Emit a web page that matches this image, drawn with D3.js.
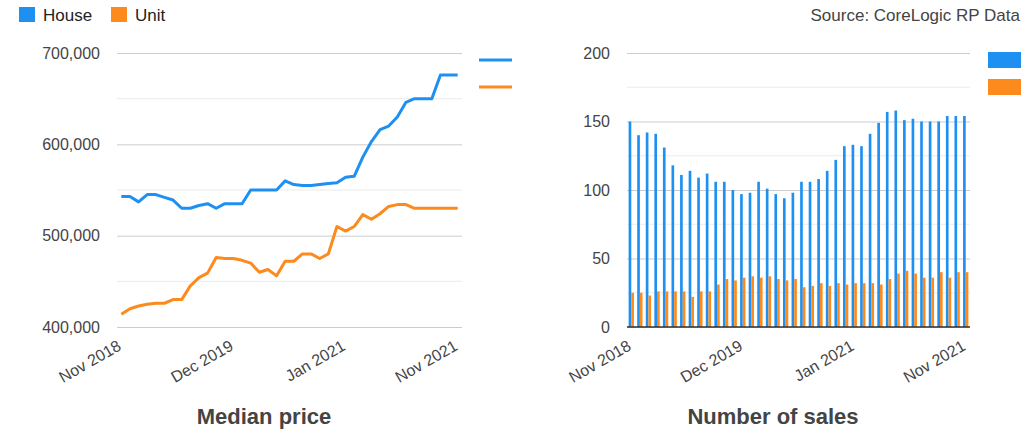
<!DOCTYPE html>
<html lang="en">
<head>
<meta charset="UTF-8">
<title>Median price and number of sales</title>
<script src="https://cdn.jsdelivr.net/npm/d3@7"></script>
<style>
  body { margin: 0; background: #fff; }
  text { font-family: "Liberation Sans", Arial, sans-serif; }
</style>
</head>
<body>
<script>

// months Nov 2018 .. Nov 2021 (40 periods on the category axis)
var tickLabels = ["Nov 2018", "Dec 2019", "Jan 2021", "Nov 2021"];
var tickAt = [0, 13, 26, 39];

var seriesNames = ["House", "Unit"];
var colors = ["#1e90f2", "#fd8a1c"];

// median price
var housePrice = [543000, 543000, 537000, 545000, 545000, 542000, 539000, 530000, 530000, 533000,
                  535000, 530000, 535000, 535000, 535000, 550000, 550000, 550000, 550000, 560000,
                  556000, 555000, 555000, 556000, 557000, 558000, 564000, 565000, 586000, 603000,
                  616000, 620000, 630000, 646000, 650000, 650000, 650000, 676000, 676000, 676000];
var unitPrice = [414000, 420000, 423000, 425000, 426000, 426000, 430000, 430000, 445000, 454000,
                 459000, 476000, 475000, 475000, 473000, 470000, 460000, 463000, 456000, 472000,
                 472000, 480000, 480000, 475000, 480000, 510000, 505000, 510000, 523000, 518000,
                 524000, 532000, 534000, 534000, 530000, 530000, 530000, 530000, 530000, 530000];

// number of sales
var houseSales = [150, 140, 142, 141, 131, 118, 111, 114, 109, 112,
                  106, 106, 100, 97, 98, 106, 101, 97, 94, 98,
                  106, 106, 108, 114, 122, 132, 133, 132, 141, 149,
                  157, 158, 151, 152, 150, 150, 150, 154, 154, 154];
var unitSales = [25, 25, 23, 26, 26, 26, 26, 22, 26, 26,
                 31, 35, 34, 36, 37, 36, 37, 35, 34, 35,
                 29, 30, 32, 30, 32, 31, 32, 32, 32, 31,
                 35, 39, 41, 39, 36, 36, 40, 36, 40, 40];

var w = 1035;
var h = 432;
var idx = d3.range(housePrice.length);

var svg = d3.select("body")
    .append("svg")
    .attr("width", w)
    .attr("height", h);

// top legend
var legend = svg.append("g");
var legendX = [19, 111];
seriesNames.forEach(function(name, i) {
    legend.append("rect")
        .attr("x", legendX[i]).attr("y", 7)
        .attr("width", 16).attr("height", 15)
        .attr("fill", colors[i]);
    legend.append("text")
        .attr("x", legendX[i] + 24).attr("y", 21)
        .attr("font-size", 17)
        .attr("fill", "#222")
        .text(name);
});

svg.append("text")
    .attr("x", 1020).attr("y", 21)
    .attr("text-anchor", "end")
    .attr("font-size", 17)
    .attr("fill", "#444")
    .text("Source: CoreLogic RP Data");

function drawFrame(g, x, y, majors, minors, fmt, left, right, top, bottom) {
    g.selectAll(".minor")
        .data(minors)
        .enter()
        .append("line")
        .attr("x1", left).attr("x2", right)
        .attr("y1", function(d) { return y(d); })
        .attr("y2", function(d) { return y(d); })
        .attr("stroke", "#ebebeb");

    var yAxis = g.append("g")
        .attr("transform", "translate(" + left + ",0)")
        .call(d3.axisLeft(y).tickValues(majors).tickFormat(fmt).tickSize(-(right - left)).tickPadding(17));
    yAxis.select(".domain").remove();
    yAxis.selectAll(".tick line").attr("stroke", "#cccccc");
    yAxis.selectAll(".tick text")
        .attr("font-size", 16)
        .attr("font-family", "Liberation Sans, Arial, sans-serif")
        .attr("fill", "#444");

    var xAxis = g.append("g")
        .attr("transform", "translate(0," + bottom + ")")
        .call(d3.axisBottom(x).tickValues(tickAt).tickSize(0)
            .tickFormat(function(d) { return tickLabels[tickAt.indexOf(d)]; }));
    xAxis.select(".domain").remove();
    xAxis.selectAll(".tick text")
        .attr("font-size", 16)
        .attr("font-family", "Liberation Sans, Arial, sans-serif")
        .attr("fill", "#444")
        .attr("text-anchor", "end")
        .attr("dy", null)
        .attr("y", 0)
        .attr("transform", "translate(1,22) rotate(-30)");
}

// ---- Median price (line chart)
var l = {left: 117, right: 462, top: 53, bottom: 327};
var gl = svg.append("g");

var xl = d3.scaleBand().domain(idx).range([l.left, l.right]);
var yl = d3.scaleLinear().domain([400000, 700000]).range([l.bottom, l.top]);

drawFrame(gl, xl, yl, [400000, 500000, 600000, 700000], [450000, 550000, 650000],
    d3.format(","), l.left, l.right, l.top, l.bottom);

var line = d3.line()
    .x(function(d, i) { return xl(i) + xl.bandwidth() / 2; })
    .y(function(d) { return yl(d); });

[housePrice, unitPrice].forEach(function(s, i) {
    gl.append("path")
        .datum(s)
        .attr("d", line)
        .attr("fill", "none")
        .attr("stroke", colors[i])
        .attr("stroke-width", 3)
        .attr("stroke-linejoin", "round");
    // side legend (markers only)
    gl.append("line")
        .attr("x1", 479).attr("x2", 512)
        .attr("y1", 60 + i * 27).attr("y2", 60 + i * 27)
        .attr("stroke", colors[i])
        .attr("stroke-width", 3);
});

gl.append("text")
    .attr("x", 264).attr("y", 424)
    .attr("text-anchor", "middle")
    .attr("font-size", 22)
    .attr("font-weight", "bold")
    .attr("fill", "#444")
    .text("Median price");

// ---- Number of sales (column chart)
var r = {left: 627, right: 970, top: 53, bottom: 327};
var gr = svg.append("g");

var xr = d3.scaleBand().domain(idx).range([r.left, r.right]).paddingInner(0.38).paddingOuter(0.19);
var xs = d3.scaleBand().domain([0, 1]).range([0, xr.bandwidth()]);
var yr = d3.scaleLinear().domain([0, 200]).range([r.bottom, r.top]);

drawFrame(gr, d3.scaleBand().domain(idx).range([r.left, r.right]), yr, [0, 50, 100, 150, 200], [25, 75, 125, 175],
    d3.format("d"), r.left, r.right, r.top, r.bottom);

[houseSales, unitSales].forEach(function(s, k) {
    gr.append("g")
        .selectAll("rect")
        .data(s)
        .enter()
        .append("rect")
        .attr("x", function(d, i) { return xr(i) + xs(k); })
        .attr("y", function(d) { return yr(d); })
        .attr("width", xs.bandwidth())
        .attr("height", function(d) { return yr(0) - yr(d); })
        .attr("fill", colors[k]);
    gr.append("rect")
        .attr("x", 988).attr("y", 52 + k * 27)
        .attr("width", 33).attr("height", 16)
        .attr("fill", colors[k]);
});

gr.append("line")
    .attr("x1", r.left).attr("x2", r.right)
    .attr("y1", yr(0)).attr("y2", yr(0))
    .attr("stroke", "#333")
    .attr("stroke-width", 1.5);

gr.append("text")
    .attr("x", 773).attr("y", 424)
    .attr("text-anchor", "middle")
    .attr("font-size", 22)
    .attr("font-weight", "bold")
    .attr("fill", "#444")
    .text("Number of sales");

</script>
</body>
</html>
